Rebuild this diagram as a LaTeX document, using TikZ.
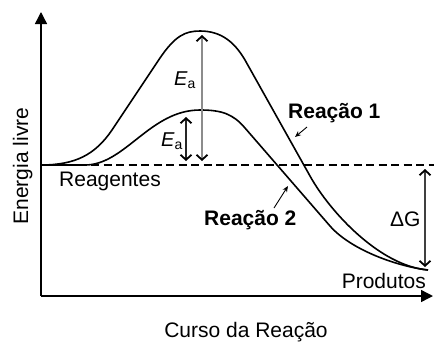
\documentclass[tikz,border=0pt]{standalone}
\usepackage{fontspec}
\setmainfont{Liberation Sans}
\usetikzlibrary{arrows.meta}
\begin{document}
\begin{tikzpicture}[x=1pt,y=-1pt,
  curve/.style={line width=1.6pt,black},
  axis/.style={line width=1.4pt,-{Triangle[length=12pt,width=12pt]}},
  barb/.style={{Straight Barb[length=5pt,width=11pt,line width=1.8pt,color=black]}-{Straight Barb[length=5pt,width=11pt,line width=1.8pt,color=black]}},
  lbl/.style={font=\fontsize{21}{23}\selectfont,inner sep=0pt},
  blbl/.style={font=\fontsize{21}{23}\selectfont\bfseries,inner sep=0pt},
  ea/.style={inner sep=0pt,font=\fontsize{20}{22}\selectfont},
  pointer/.style={line width=0.9pt,-{Stealth[length=6pt,width=5pt]}}]
\useasboundingbox (0,0) rectangle (434,341);
% axes
\coordinate (O) at (41,296);
\coordinate (Ytop) at (41,12);
\coordinate (Xend) at (433,296);
\draw[axis] (O) -- (Ytop);
\draw[axis] (O) -- (Xend);
% baseline dashed
\coordinate (D0) at (41,165);
\coordinate (D1) at (434,165);
\draw[line width=1.1pt,dash pattern=on 8pt off 4.5pt] (D0) -- (D1);
% reaction 1
\coordinate (R) at (41,165);
\coordinate (P1) at (200,31);
\coordinate (P2) at (200,110);
\coordinate (E) at (428,270);
\draw[curve] (R) .. controls (75,165) and (95,155) .. (112,130) -- (160,58)
  .. controls (175,36) and (185,31) .. (P1)
  .. controls (222,31) and (235,43) .. (245,60) -- (310,176)
  .. controls (330,212) and (380,266) .. (E);
% reaction 2
\draw[curve] (R) -- (85,165) .. controls (125,165) and (150,110) .. (P2)
  .. controls (222,110) and (233,114) .. (245,128) -- (330,226)
  .. controls (350,249) and (395,266) .. (E);
% Ea arrows
\coordinate (A1t) at (202,35);
\coordinate (A1b) at (202,161);
\coordinate (A2t) at (186,117);
\coordinate (A2b) at (186,161);
\draw[barb,line width=1.3pt,draw=black!45] (A1t) -- (A1b);
\draw[barb,line width=1.3pt,draw=black!85] (A2t) -- (A2b);
\node[ea,anchor=base west] (ea1) at (174,85) {\itshape E\raisebox{-3pt}{\upshape\fontsize{14}{15}\selectfont a}};
\node[ea,anchor=base west] (ea2) at (161,146) {\itshape E\raisebox{-3pt}{\upshape\fontsize{14}{15}\selectfont a}};
% Delta G
\coordinate (G1) at (425,169);
\coordinate (G2) at (425,267);
\draw[barb,line width=1.1pt,draw=black!75] (G1) -- (G2);
\node[lbl,anchor=base west] (dg) at (390,226) {ΔG};
% labels
\node[lbl,anchor=base west] (reag) at (59,186) {Reagentes};
\node[lbl,anchor=base east] (prod) at (426,288) {Produtos};
\node[lbl,anchor=base] (xl) at (246,337) {Curso da Reação};
\node[lbl,rotate=90,anchor=base] (yl) at (28,166) {Energia livre};
\node[blbl,anchor=base west] (r1) at (288,118) {Reação 1};
\node[blbl,anchor=base west] (r2) at (204,225) {Reação 2};
\coordinate (p1s) at (307,127);
\coordinate (p1e) at (295,137);
\coordinate (p2s) at (274,208);
\coordinate (p2e) at (288,186);
\draw[pointer] (p1s) -- (p1e);
\draw[pointer] (p2s) -- (p2e);
\end{tikzpicture}
\end{document}
